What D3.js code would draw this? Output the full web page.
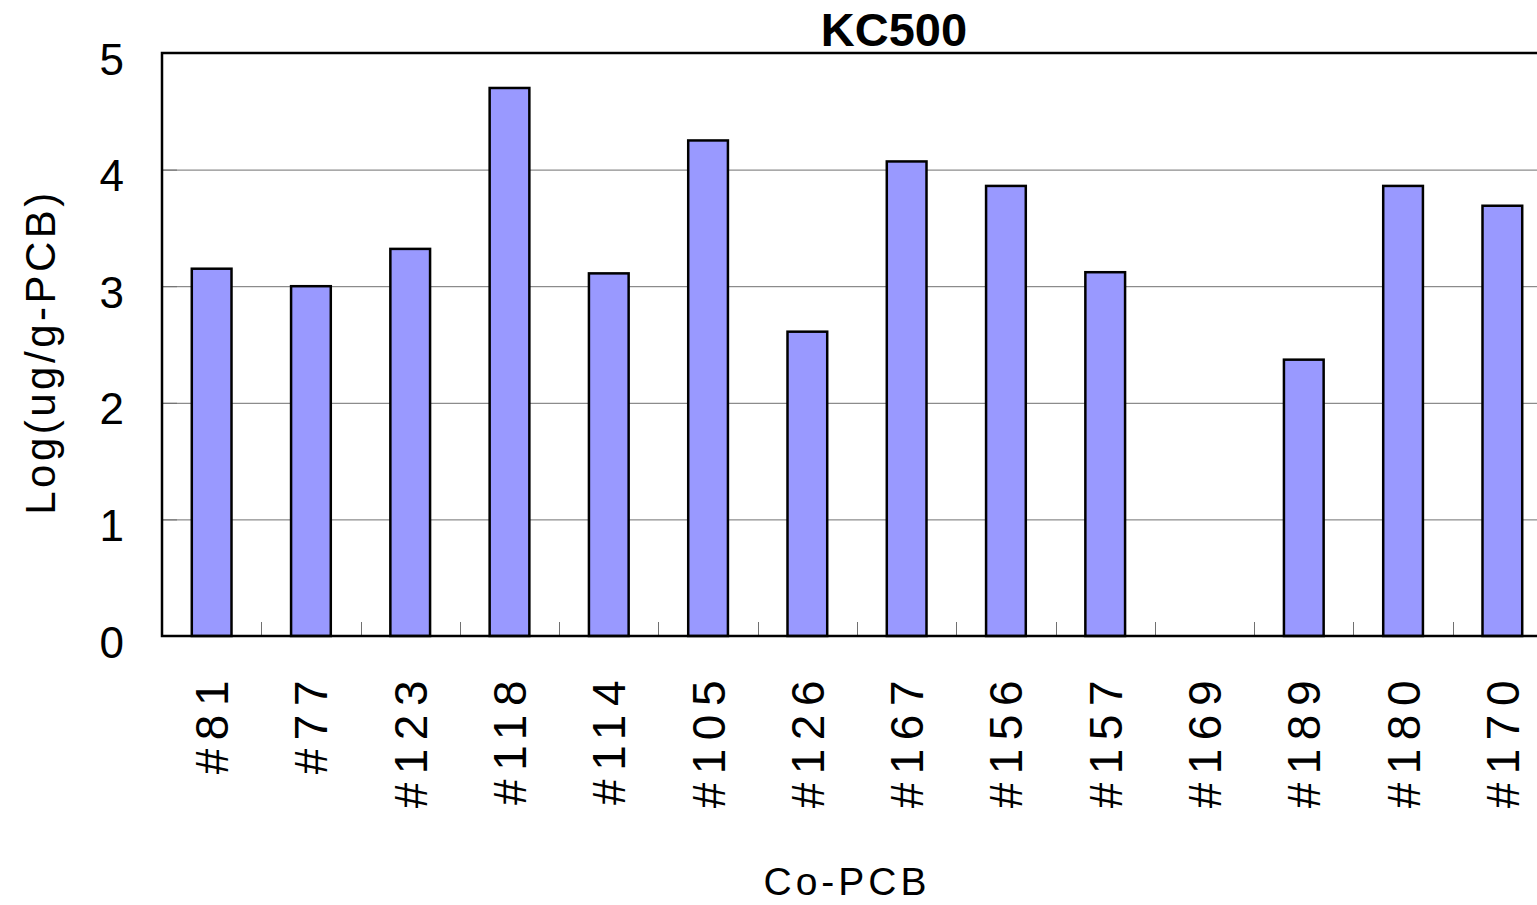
<!DOCTYPE html>
<html>
<head>
<meta charset="utf-8">
<script src="https://cdn.jsdelivr.net/npm/d3@7"></script>
<style>
  html, body { margin: 0; padding: 0; background: #fff; overflow: hidden; }
  svg { display: block; font-family: "Liberation Sans", Arial, sans-serif; }
  .grid line { stroke: #707070; stroke-width: 1; }
  .bar { fill: #9999ff; stroke: #000; stroke-width: 2.5; }
</style>
</head>
<body>
<div id="chart"></div>
<script>
"use strict"

// data
const categories = ["#81", "#77", "#123", "#118", "#114", "#105", "#126",
                    "#167", "#156", "#157", "#169", "#189", "#180", "#170"];
const logValues = [3.15, 3.00, 3.32, 4.70, 3.11, 4.25, 2.61,
                   4.07, 3.86, 3.12, 0, 2.37, 3.86, 3.69];
const yTicks = [0, 1, 2, 3, 4, 5];
const chartTitle = "KC500";
const xTitle = "Co-PCB";
const yTitle = "Log(ug/g-PCB)";

const totalWidth = 1537, totalHeight = 905;
// plot area runs a little past the right edge of the window, as in the reference
const margin = { left: 162, top: 53, plotRight: 1552, bottom: 636 };

const svg = d3.select("#chart").append("svg")
    .attr("width", totalWidth)
    .attr("height", totalHeight);

const xScale = d3.scaleBand()
    .domain(categories)
    .range([margin.left, margin.plotRight])
    .paddingInner(0.6)
    .paddingOuter(0.3);

const yScale = d3.scaleLinear()
    .domain([0, 5])
    .range([margin.bottom, margin.top]);

const step = xScale.step();

// gridlines
svg.append("g").attr("class", "grid")
    .selectAll("line")
    .data(yTicks.filter(d => d > 0 && d < 5))
    .enter().append("line")
        .attr("x1", margin.left)
        .attr("x2", margin.plotRight)
        .attr("y1", d => yScale(d) + 0.5)
        .attr("y2", d => yScale(d) + 0.5);

// bars
svg.append("g")
    .selectAll("rect")
    .data(categories.map((c, i) => ({ name: c, value: logValues[i] })).filter(d => d.value > 0))
    .enter().append("rect")
        .attr("class", "bar")
        .attr("x", d => xScale(d.name))
        .attr("y", d => yScale(d.value))
        .attr("width", xScale.bandwidth())
        .attr("height", d => yScale(0) - yScale(d.value));

// y axis (ticks point inward)
const yAxis = svg.append("g")
    .attr("transform", `translate(${margin.left},0)`)
    .call(d3.axisLeft(yScale).tickValues(yTicks).tickFormat(d3.format("d"))
        .tickSize(-15).tickSizeOuter(0).tickPadding(38));
yAxis.select(".domain").remove();
yAxis.selectAll(".tick line").attr("stroke", "#707070");
yAxis.selectAll(".tick text")
    .attr("dy", 21)
    .attr("fill", "#000")
    .style("font-size", "44px");

// x tick marks at the category boundaries
svg.append("g")
    .selectAll("line")
    .data(categories.slice(1))
    .enter().append("line")
        .attr("x1", d => Math.round(xScale(d) - step * 0.3) + 0.5)
        .attr("x2", d => Math.round(xScale(d) - step * 0.3) + 0.5)
        .attr("y1", margin.bottom)
        .attr("y2", margin.bottom - 14)
        .attr("stroke", "#707070");

// plot frame: left, top and bottom edges
svg.append("path")
    .attr("d", `M${margin.plotRight},${margin.top}H${margin.left}V${margin.bottom}H${margin.plotRight}`)
    .attr("fill", "none")
    .attr("stroke", "#000")
    .attr("stroke-width", 2.5);

// x category labels, rotated
svg.append("g")
    .selectAll("text")
    .data(categories)
    .enter().append("text")
        .attr("transform", d => `translate(${xScale(d) + xScale.bandwidth() / 2 + 16.5},672)rotate(-90)`)
        .attr("text-anchor", "end")
        .style("font-size", "46px")
        .style("letter-spacing", "8.5px")
        .text(d => d);

// titles
svg.append("text")
    .attr("x", 894)
    .attr("y", 46)
    .attr("text-anchor", "middle")
    .style("font-size", "47px")
    .style("font-weight", "bold")
    .text(chartTitle);

svg.append("text")
    .attr("x", 847)
    .attr("y", 895)
    .attr("text-anchor", "middle")
    .style("font-size", "39px")
    .style("letter-spacing", "4px")
    .text(xTitle);

svg.append("text")
    .attr("transform", "translate(55,352)rotate(-90)")
    .attr("text-anchor", "middle")
    .style("font-size", "42px")
    .style("letter-spacing", "3.5px")
    .text(yTitle);
</script>
</body>
</html>
